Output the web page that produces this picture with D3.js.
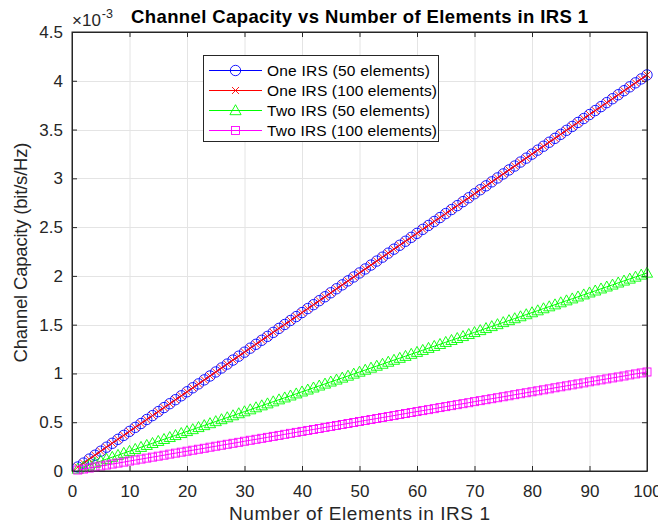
<!DOCTYPE html>
<html>
<head>
<meta charset="utf-8">
<script src="https://cdn.jsdelivr.net/npm/d3@7"></script>
<style>
  body { margin: 0; background: #fff; }
  svg { display: block; font-family: "Liberation Sans", Arial, sans-serif; }
  .grid line { stroke: #e4e4e4; stroke-width: 1; }
  .axis path, .axis line { stroke: #262626; }
  .axis text { fill: #262626; font-size: 17px; }
</style>
</head>
<body>
<svg id="chart" width="658" height="526"></svg>
<script>
// x values: number of elements in IRS 1
var elements = d3.range(1, 101);

// capacities, in units of 1e-3 bit/s/Hz
var oneIRS50 = [0.041,0.081,0.122,0.162,0.203,0.244,0.284,0.325,0.365,0.406,
  0.447,0.487,0.528,0.568,0.609,0.650,0.690,0.731,0.771,0.812,
  0.853,0.893,0.934,0.974,1.015,1.056,1.096,1.137,1.177,1.218,
  1.259,1.299,1.340,1.380,1.421,1.462,1.502,1.543,1.583,1.624,
  1.665,1.705,1.746,1.786,1.827,1.868,1.908,1.949,1.989,2.030,
  2.071,2.111,2.152,2.192,2.233,2.274,2.314,2.355,2.395,2.436,
  2.477,2.517,2.558,2.598,2.639,2.680,2.720,2.761,2.801,2.842,
  2.883,2.923,2.964,3.004,3.045,3.086,3.126,3.167,3.207,3.248,
  3.289,3.329,3.370,3.410,3.451,3.492,3.532,3.573,3.613,3.654,
  3.695,3.735,3.776,3.816,3.857,3.898,3.938,3.979,4.019,4.060];

var oneIRS100 = [0.041,0.081,0.122,0.162,0.203,0.244,0.284,0.325,0.365,0.406,
  0.447,0.487,0.528,0.568,0.609,0.650,0.690,0.731,0.771,0.812,
  0.853,0.893,0.934,0.974,1.015,1.056,1.096,1.137,1.177,1.218,
  1.259,1.299,1.340,1.380,1.421,1.462,1.502,1.543,1.583,1.624,
  1.665,1.705,1.746,1.786,1.827,1.868,1.908,1.949,1.989,2.030,
  2.071,2.111,2.152,2.192,2.233,2.274,2.314,2.355,2.395,2.436,
  2.477,2.517,2.558,2.598,2.639,2.680,2.720,2.761,2.801,2.842,
  2.883,2.923,2.964,3.004,3.045,3.086,3.126,3.167,3.207,3.248,
  3.289,3.329,3.370,3.410,3.451,3.492,3.532,3.573,3.613,3.654,
  3.695,3.735,3.776,3.816,3.857,3.898,3.938,3.979,4.019,4.060];

var twoIRS50 = [0.020,0.041,0.061,0.081,0.102,0.122,0.142,0.162,0.183,0.203,
  0.223,0.244,0.264,0.284,0.305,0.325,0.345,0.365,0.386,0.406,
  0.426,0.447,0.467,0.487,0.508,0.528,0.548,0.568,0.589,0.609,
  0.629,0.650,0.670,0.690,0.711,0.731,0.751,0.771,0.792,0.812,
  0.832,0.853,0.873,0.893,0.914,0.934,0.954,0.974,0.995,1.015,
  1.035,1.056,1.076,1.096,1.117,1.137,1.157,1.177,1.198,1.218,
  1.238,1.259,1.279,1.299,1.320,1.340,1.360,1.380,1.401,1.421,
  1.441,1.462,1.482,1.502,1.523,1.543,1.563,1.583,1.604,1.624,
  1.644,1.665,1.685,1.705,1.726,1.746,1.766,1.786,1.807,1.827,
  1.847,1.868,1.888,1.908,1.929,1.949,1.969,1.989,2.010,2.030];

var twoIRS100 = [0.010,0.020,0.030,0.041,0.051,0.061,0.071,0.081,0.091,0.102,
  0.112,0.122,0.132,0.142,0.152,0.162,0.173,0.183,0.193,0.203,
  0.213,0.223,0.233,0.244,0.254,0.264,0.274,0.284,0.294,0.305,
  0.315,0.325,0.335,0.345,0.355,0.365,0.376,0.386,0.396,0.406,
  0.416,0.426,0.436,0.447,0.457,0.467,0.477,0.487,0.497,0.508,
  0.518,0.528,0.538,0.548,0.558,0.568,0.579,0.589,0.599,0.609,
  0.619,0.629,0.639,0.650,0.660,0.670,0.680,0.690,0.700,0.711,
  0.721,0.731,0.741,0.751,0.761,0.771,0.782,0.792,0.802,0.812,
  0.822,0.832,0.842,0.853,0.863,0.873,0.883,0.893,0.903,0.914,
  0.924,0.934,0.944,0.954,0.964,0.974,0.985,0.995,1.005,1.015];

var seriesNames = ["One IRS (50 elements)", "One IRS (100 elements)", "Two IRS (50 elements)", "Two IRS (100 elements)"];
var seriesColors = ["#0000ff", "#ff0000", "#00ff00", "#ff00ff"];
var seriesMarkers = ["circle", "cross", "triangle", "square"];
var seriesValues = [oneIRS50, oneIRS100, twoIRS50, twoIRS100];

var xTicks = d3.range(0, 101, 10);
var yTicks = [0, 0.5, 1, 1.5, 2, 2.5, 3, 3.5, 4, 4.5];

var svg = d3.select("#chart");
var padL = 72, padR = 647, padT = 32, padB = 471;

var x = d3.scaleLinear().domain([0, 100]).range([padL, padR]);
var y = d3.scaleLinear().domain([0, 4.5]).range([padB, padT]);

// grid
var grid = svg.append("g").attr("class", "grid");
grid.selectAll(".gx").data(xTicks.slice(1, -1)).enter().append("line")
    .attr("x1", function(d) { return x(d) + 0.5; })
    .attr("x2", function(d) { return x(d) + 0.5; })
    .attr("y1", padT).attr("y2", padB);
grid.selectAll(".gy").data(yTicks.slice(1, -1)).enter().append("line")
    .attr("y1", function(d) { return Math.round(y(d)) + 0.5; })
    .attr("y2", function(d) { return Math.round(y(d)) + 0.5; })
    .attr("x1", padL).attr("x2", padR);

// axes with inward ticks on all four sides
function fmt(d) { return String(d); }
svg.append("g").attr("class", "axis")
    .attr("transform", "translate(0," + padB + ")")
    .call(d3.axisBottom(x).tickValues(xTicks).tickFormat(fmt).tickSizeInner(-5).tickSizeOuter(0).tickPadding(14));
svg.append("g").attr("class", "axis")
    .attr("transform", "translate(0," + padT + ")")
    .call(d3.axisTop(x).tickValues(xTicks).tickFormat("").tickSizeInner(-5).tickSizeOuter(0));
svg.append("g").attr("class", "axis")
    .attr("transform", "translate(" + padL + ",0)")
    .call(d3.axisLeft(y).tickValues(yTicks).tickFormat(fmt).tickSizeInner(-5).tickSizeOuter(0).tickPadding(9));
svg.append("g").attr("class", "axis")
    .attr("transform", "translate(" + padR + ",0)")
    .call(d3.axisRight(y).tickValues(yTicks).tickFormat("").tickSizeInner(-5).tickSizeOuter(0));

function drawMarker(g, type, color, cx, cy) {
    if (type === "circle") {
        g.append("circle").attr("cx", cx).attr("cy", cy).attr("r", 5.2)
            .attr("fill", "none").attr("stroke", color).attr("stroke-width", 0.9);
    } else if (type === "cross") {
        var s = 3.5;
        g.append("path").attr("d", "M" + (cx - s) + "," + (cy - s) + "L" + (cx + s) + "," + (cy + s) +
            "M" + (cx - s) + "," + (cy + s) + "L" + (cx + s) + "," + (cy - s))
            .attr("stroke", color).attr("stroke-width", 0.9).attr("fill", "none");
    } else if (type === "triangle") {
        g.append("path").attr("d", "M" + cx + "," + (cy - 5.8) + "L" + (cx + 5.6) + "," + (cy + 4.2) +
            "L" + (cx - 5.6) + "," + (cy + 4.2) + "Z")
            .attr("stroke", color).attr("stroke-width", 0.9).attr("fill", "none");
    } else {
        g.append("rect").attr("x", cx - 4).attr("y", cy - 4).attr("width", 8).attr("height", 8)
            .attr("stroke", color).attr("stroke-width", 0.9).attr("fill", "none");
    }
}

var line = d3.line()
    .x(function(d) { return x(d[0]); })
    .y(function(d) { return y(d[1]); });

var plot = svg.append("g");
seriesValues.forEach(function(vals, i) {
    var pts = elements.map(function(e, j) { return [e, vals[j]]; });
    var g = plot.append("g");
    g.append("path").datum(pts).attr("d", line)
        .attr("fill", "none").attr("stroke", seriesColors[i]).attr("stroke-width", 1);
    pts.forEach(function(p) {
        drawMarker(g, seriesMarkers[i], seriesColors[i], x(p[0]), y(p[1]));
    });
});

// box on top
svg.append("rect").attr("x", padL).attr("y", padT).attr("width", padR - padL).attr("height", padB - padT)
    .attr("fill", "none").attr("stroke", "#262626").attr("stroke-width", 1);

// exponent label
var ex = svg.append("text").attr("x", padL).attr("y", 26).attr("fill", "#262626").style("font-size", "17px");
ex.append("tspan").text("\u00d710");
ex.append("tspan").attr("dy", -8).attr("dx", 1).style("font-size", "12.5px").text("-3");

// title
svg.append("text").attr("x", (padL + padR) / 2).attr("y", 23)
    .attr("text-anchor", "middle").attr("fill", "#000").style("font-size", "18.5px").style("font-weight", "bold")
    .attr("textLength", 457).attr("lengthAdjust", "spacing")
    .text("Channel Capacity vs Number of Elements in IRS 1");

// axis labels
svg.append("text").attr("x", (padL + padR) / 2).attr("y", 520)
    .attr("text-anchor", "middle").attr("fill", "#262626").style("font-size", "19px")
    .attr("textLength", 261).attr("lengthAdjust", "spacing")
    .text("Number of Elements in IRS 1");
svg.append("text").attr("transform", "translate(27," + ((padT + padB) / 2 + 1) + ") rotate(-90)")
    .attr("text-anchor", "middle").attr("fill", "#262626").style("font-size", "18.5px")
    .attr("textLength", 220).attr("lengthAdjust", "spacing")
    .text("Channel Capacity (bit/s/Hz)");

// legend
var legendWidths = [163, 170, 163, 170];
var lg = svg.append("g");
lg.append("rect").attr("x", 203.5).attr("y", 55.5).attr("width", 235).attr("height", 86)
    .attr("fill", "#fff").attr("stroke", "#262626").attr("stroke-width", 1);
seriesNames.forEach(function(name, i) {
    var ly = 70.5 + i * 20;
    lg.append("line").attr("x1", 209).attr("x2", 262).attr("y1", ly).attr("y2", ly)
        .attr("stroke", seriesColors[i]).attr("stroke-width", 1);
    drawMarker(lg, seriesMarkers[i], seriesColors[i], 235.5, ly);
    lg.append("text").attr("x", 267).attr("y", ly + 5.5).attr("fill", "#000").style("font-size", "15.5px")
        .attr("textLength", legendWidths[i]).attr("lengthAdjust", "spacing").text(name);
});
</script>
</body>
</html>
